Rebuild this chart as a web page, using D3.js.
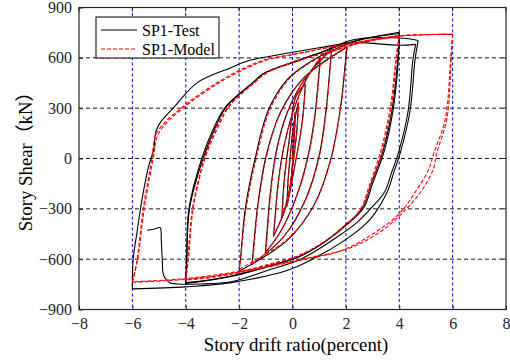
<!DOCTYPE html>
<html><head><meta charset="utf-8">
<script src="https://cdn.jsdelivr.net/npm/d3@7"></script>
<style>body{margin:0;background:#fff}</style>
</head><body>
<svg id="c" width="510" height="362"></svg>
<script>
// ---- axis / grid values ----
const xTicks = [-8, -6, -4, -2, 0, 2, 4, 6, 8];
const yTicks = [-900, -600, -300, 0, 300, 600, 900];
const xGrid = [-6, -4, -2, 0, 2, 4, 6];
const yGrid = [-600, -300, 0, 300, 600];
const seriesNames = ["SP1-Test", "SP1-Model"];

// ---- SP1-Test cycles: [drift %, shear kN] ----
const testC1 = [[0,0],[0.05,140],[0.1,274],[0.069,134],[0.007,-5],[-0.086,-172],[-0.21,-284]];
const testC2 = [[-0.21,-284],[-0.167,-130],[-0.081,24],[0.048,209],[0.22,332],[0.158,161],[0.034,-11],[-0.152,-217],[-0.4,-354]];
const testC3 = [[-0.4,-354],[-0.312,-128],[-0.136,98],[0.128,369],[0.48,441],[0.361,215],[0.123,-11],[-0.234,-282],[-0.71,-463]];
const testC4 = [[-0.71,-463],[-0.658,-357],[-0.535,-144],[-0.325,69],[0.025,281],[0.515,472],[1.04,600],[0.978,484],[0.834,251],[0.587,19],[0.175,-214],[-0.402,-423],[-1.02,-563]];
const testC5 = [[-1.02,-563],[-0.97,-467],[-0.846,-228],[-0.62,35],[-0.198,274],[0.474,477],[1.47,655],[1.41,552],[1.261,295],[0.992,12],[0.483,-246],[-0.324,-465],[-1.52,-632]];
const testC6 = [[-1.52,-632],[-1.467,-541],[-1.306,-282],[-0.986,17],[-0.452,276],[0.438,483],[2.04,665],[1.979,571],[1.798,304],[1.434,-4],[0.828,-271],[-0.182,-485],[-2,-672]];
const testC7 = [[-2,-672],[-1.95,-600],[-1.77,-300],[-1.4,0],[-0.9,290],[-0.2,470],[0.6,570],[1.3,630],[2.4,700],[4,752],[3.97,600],[3.78,300],[3.45,50],[3.0,-150],[2.67,-294],[2.04,-394],[1.16,-503],[0.29,-582],[-1,-645],[-2,-690],[-3,-722],[-4,-745]];
const testC8 = [[-4,-745],[-3.97,-600],[-3.88,-300],[-3.4,0],[-2.9,200],[-2.5,310],[-1.5,450],[-1.1,505],[0.16,580],[1.04,630],[2.41,705],[4,745],[3.95,600],[3.74,300],[3.4,50],[2.95,-150],[2.6,-300],[1.95,-400],[1.1,-508],[0.2,-588],[-1,-648],[-2,-692],[-3,-722],[-4,-740]];
const testC9 = [[-4,-740],[-3.96,-600],[-3.86,-300],[-3.35,0],[-2.85,200],[-2.45,315],[-1.45,455],[-1.05,510],[0.2,585],[1.1,635],[2.28,708],[4.03,718],[4.71,703],[4.6,600],[4.4,280],[4.05,40],[3.8,-80],[3.54,-203],[2.9,-364],[2.2,-460],[1.4,-543],[-0.1,-662],[-2.3,-740],[-4,-765],[-6,-777]];
const testC10 = [[-6,-777],[-5.97,-600],[-5.83,-443],[-5.64,-245],[-5.39,-46],[-5.2,54],[-5.12,160],[-4.95,215],[-4.47,300],[-3.58,451],[-2.33,540],[-1.71,580],[-0.09,630],[1,660],[2.28,690],[4.0,675],[4.62,680],[4.52,600],[4.33,280],[3.98,40],[3.72,-80],[3.45,-200],[2.97,-292],[2.41,-382],[1.53,-483],[0.3,-600],[-1,-670],[-2.3,-735],[-3.5,-748],[-4.3,-748],[-4.6,-740],[-4.82,-700],[-4.88,-600],[-4.92,-480],[-4.96,-413],[-5.2,-422],[-5.45,-428]];

// ---- SP1-Model cycles ----
const modelC1 = [[0,0],[0.05,140],[0.11,280],[0.08,140],[0.015,0],[-0.08,-170],[-0.2,-280]];
const modelC2 = [[-0.2,-280],[-0.155,-125],[-0.07,28],[0.06,212],[0.23,335],[0.168,165],[0.045,-8],[-0.14,-213],[-0.39,-350]];
const modelC3 = [[-0.39,-350],[-0.3,-125],[-0.125,100],[0.14,372],[0.49,445],[0.372,218],[0.135,-8],[-0.222,-279],[-0.7,-460]];
const modelC4 = [[-0.7,-460],[-0.648,-354],[-0.525,-141],[-0.315,72],[0.035,283],[0.525,472],[1.05,598],[0.99,482],[0.846,249],[0.6,17],[0.19,-212],[-0.39,-420],[-1.0,-560]];
const modelC5 = [[-1.0,-560],[-0.95,-464],[-0.826,-225],[-0.6,38],[-0.18,276],[0.49,478],[1.48,652],[1.42,550],[1.272,293],[1.004,10],[0.495,-246],[-0.31,-463],[-1.5,-628]];
const modelC6 = [[-1.5,-628],[-1.447,-538],[-1.286,-280],[-0.966,18],[-0.432,276],[0.455,482],[2.05,662],[1.99,570],[1.81,304],[1.445,-2],[0.84,-268],[-0.17,-478],[-2,-660]];
const modelC7 = [[-2,-660],[-1.94,-590],[-1.74,-300],[-1.36,0],[-0.85,290],[-0.15,470],[0.65,570],[1.4,630],[2.5,690],[4,728],[3.9,600],[3.7,300],[3.35,40],[2.95,-150],[2.6,-300],[2.0,-400],[1.1,-505],[0.2,-580],[-1,-635],[-2,-675],[-3,-705],[-4,-722]];
const modelC8 = [[-4,-722],[-3.92,-600],[-3.75,-300],[-3.3,0],[-2.8,200],[-2.4,310],[-1.45,450],[-1.0,510],[0.2,580],[1.1,625],[2.45,690],[4,730],[3.88,600],[3.66,300],[3.3,40],[2.9,-150],[2.55,-300],[1.95,-405],[1.05,-510],[0.15,-585],[-1,-640],[-2,-680],[-3,-708],[-4,-725]];
const modelC9 = [[-4,-725],[-3.9,-600],[-3.72,-300],[-3.28,0],[-2.75,200],[-2.35,315],[-1.4,455],[-0.9,515],[0.3,590],[1.5,640],[2.6,690],[4.03,730],[6,740],[5.95,600],[5.78,233],[5.41,34],[5.27,-66],[4.8,-200],[4.28,-298],[3.41,-423],[2.16,-533],[0.29,-602],[-1.58,-662],[-4,-715],[-6,-735]];
const modelC10 = [[-6,-735],[-5.82,-600],[-5.6,-304],[-5.4,-120],[-5.27,0],[-5.08,155],[-4.17,300],[-2.83,451],[-1.8,540],[-1.0,590],[0,620],[2,680],[4,730],[6,740],[5.93,600],[5.72,233],[5.3,34],[5.1,-66],[4.6,-200],[4.0,-330],[3.1,-440],[1.9,-545],[0.1,-612],[-1.6,-668],[-4,-720],[-6,-738]];
const modelC11 = [[-6,-738],[-5.8,-600],[-5.56,-304],[-5.22,0],[-5.0,155],[-4.1,300],[-2.75,451],[-1.7,540],[-0.9,590],[0.1,622],[2,682],[4,732],[6,740]];

const testCycles = [testC1,testC2,testC3,testC4,testC5,testC6,testC7,testC8,testC9,testC10];
const modelCycles = [modelC1,modelC2,modelC3,modelC4,modelC5,modelC6,modelC7,modelC8,modelC9,modelC10,modelC11];

// join cycles and split into branches at load reversals (sharp peaks)
function branches(cycles){
  const pts = [];
  cycles.forEach((c,i)=>{ (i===0?c:c.slice(1)).forEach(p=>pts.push(p)); });
  const out = [];
  let cur = [pts[0]];
  let dir = 0;
  for (let i=1;i<pts.length;i++){
    const d = Math.sign(pts[i][0]-pts[i-1][0]);
    if (dir!==0 && d!==0 && d!==dir){ out.push(cur); cur=[pts[i-1]]; }
    if (d!==0) dir = d;
    cur.push(pts[i]);
  }
  out.push(cur);
  return out;
}
const testBranches = branches(testCycles);
const modelBranches = branches(modelCycles);

// ---- drawing ----
const svg = d3.select("#c");
const L = 79, R = 506, T = 7.5, B = 309.5;
const x = d3.scaleLinear().domain([-8, 8]).range([L, R]);
const y = d3.scaleLinear().domain([-900, 900]).range([B, T]);
const FONT = "'Liberation Serif','Times New Roman',serif";

svg.append("rect").attr("x",0).attr("y",0).attr("width",510).attr("height",362).attr("fill","#fff");
svg.append("defs").append("clipPath").attr("id","clip")
  .append("rect").attr("x",L).attr("y",T).attr("width",R-L).attr("height",B-T);

// grid
svg.append("g").selectAll("line").data(xGrid).join("line")
  .attr("x1",d=>x(d)).attr("x2",d=>x(d)).attr("y1",T).attr("y2",B)
  .attr("stroke","#0000ff").attr("stroke-width",1).attr("stroke-dasharray","3,2.5");
svg.append("g").selectAll("line").data(yGrid).join("line")
  .attr("x1",L).attr("x2",R).attr("y1",d=>y(d)).attr("y2",d=>y(d))
  .attr("stroke","#1a1a1a").attr("stroke-width",1).attr("stroke-dasharray","4,3");

// curves
const line = d3.line().x(d=>x(d[0])).y(d=>y(d[1])).curve(d3.curveCatmullRom.alpha(0.5));
const plot = svg.append("g").attr("clip-path","url(#clip)");
plot.append("g").selectAll("path").data(testBranches).join("path")
  .attr("d",line).attr("fill","none")
  .attr("stroke","#000").attr("stroke-width",1.1).attr("stroke-linejoin","round");
plot.append("g").selectAll("path").data(modelBranches).join("path")
  .attr("d",line).attr("fill","none")
  .attr("stroke","#ff0000").attr("stroke-width",1.1).attr("stroke-dasharray","4,2");

// axes
const xAxis = d3.axisBottom(x).tickValues(xTicks).tickSize(-4).tickPadding(8);
const yAxis = d3.axisLeft(y).tickValues(yTicks).tickSize(-4).tickPadding(7);
const gx = svg.append("g").attr("transform",`translate(0,${B})`).call(xAxis);
const gy = svg.append("g").attr("transform",`translate(${L},0)`).call(yAxis);
[gx,gy].forEach(g=>{
  g.attr("font-family",FONT).attr("font-size",16);
  g.select(".domain").remove();
  g.selectAll("line").attr("stroke","#262626");
  g.selectAll("text").attr("font-family",FONT).attr("font-size",16).attr("fill","#262626");
});
// top/right ticks
svg.append("g").selectAll("line").data(xTicks).join("line")
  .attr("x1",d=>x(d)).attr("x2",d=>x(d)).attr("y1",T).attr("y2",T+4).attr("stroke","#262626");
svg.append("g").selectAll("line").data(yTicks).join("line")
  .attr("x1",R).attr("x2",R-4).attr("y1",d=>y(d)).attr("y2",d=>y(d)).attr("stroke","#262626");

svg.append("rect").attr("x",L).attr("y",T).attr("width",R-L).attr("height",B-T)
  .attr("fill","none").attr("stroke","#262626").attr("stroke-width",1.2);

// axis titles
svg.append("text").attr("x",296).attr("y",351).attr("text-anchor","middle")
  .attr("font-family",FONT).attr("font-size",18.8).attr("fill","#000")
  .text("Story drift ratio(percent)");
svg.append("text").attr("transform","translate(32,157) rotate(-90)").attr("text-anchor","middle")
  .attr("font-family","'Liberation Serif','Times New Roman','Noto Sans CJK SC',serif").attr("font-size",18.8).attr("fill","#000")
  .text("Story Shear（kN）");

// legend
const lg = svg.append("g");
lg.append("rect").attr("x",96).attr("y",17).attr("width",123).attr("height",41)
  .attr("fill","#fff").attr("stroke","#000").attr("stroke-width",1);
const legendStyles = [{c:"#000",dash:null},{c:"#ff0000",dash:"4,2"}];
seriesNames.forEach((name,i)=>{
  const yy = 30 + i*19;
  const l = lg.append("line").attr("x1",101).attr("x2",137).attr("y1",yy).attr("y2",yy)
    .attr("stroke",legendStyles[i].c).attr("stroke-width",1.1);
  if (legendStyles[i].dash) l.attr("stroke-dasharray",legendStyles[i].dash);
  lg.append("text").attr("x",142).attr("y",yy+5.5).attr("font-family",FONT)
    .attr("font-size",16).attr("fill","#000").text(name);
});
</script>
</body></html>
